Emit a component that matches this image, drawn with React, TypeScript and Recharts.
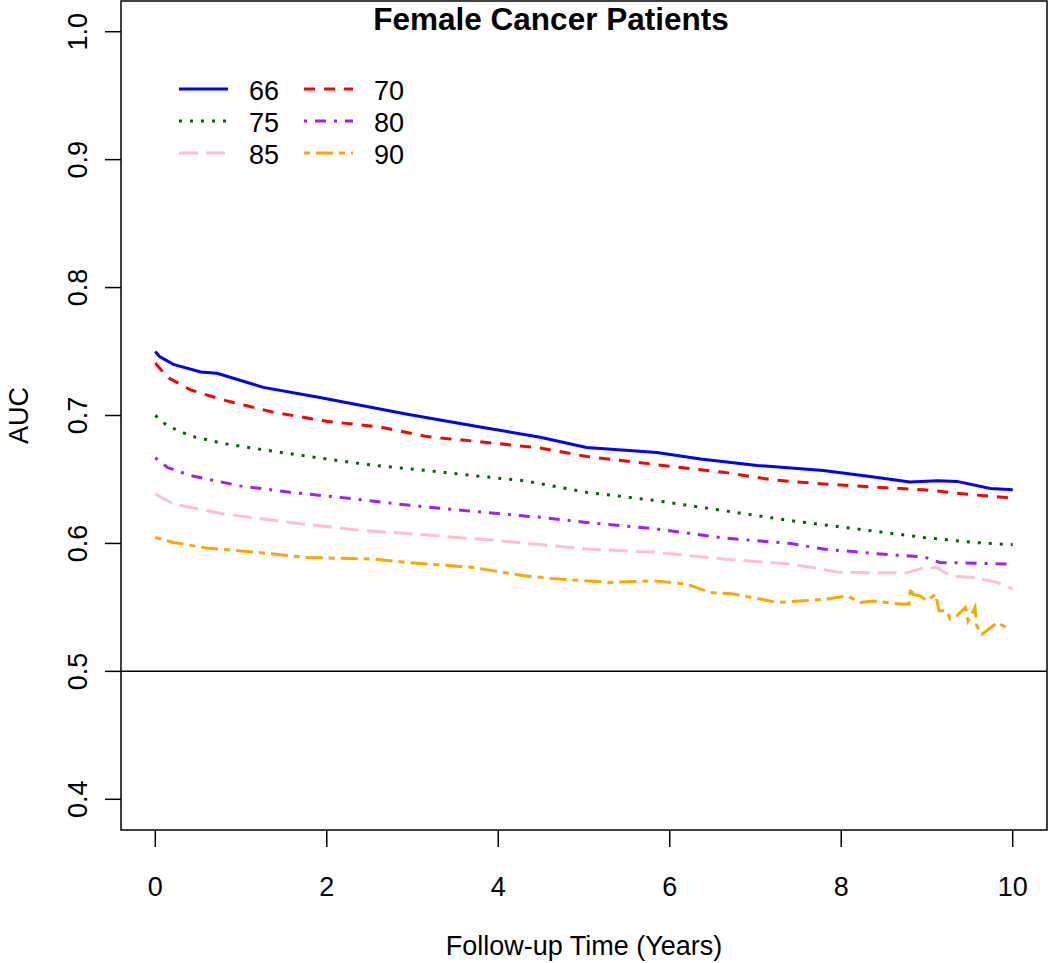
import { LineChart, Line, XAxis, YAxis, ReferenceLine, ReferenceArea } from "recharts"

const FONT = "'Liberation Sans', Arial, Helvetica, sans-serif"

const xTicks = [0, 2, 4, 6, 8, 10]
const yTicks = [0.4, 0.5, 0.6, 0.7, 0.8, 0.9, 1.0]

const t66 = [0, 0.05, 0.21, 0.53, 0.72, 1.26, 1.92, 2.24, 2.94, 3.79, 4.49, 5.03, 5.85, 6.36, 7.02, 7.79, 8.38, 8.8, 9.12, 9.35, 9.74, 10]
const auc66 = [0.75, 0.746, 0.74, 0.734, 0.733, 0.722, 0.714, 0.71, 0.701, 0.691, 0.683, 0.675, 0.671, 0.666, 0.661, 0.657, 0.652, 0.648, 0.649, 0.6485, 0.643, 0.642]

const t70 = [0, 0.14, 0.41, 0.8, 1.38, 2.0, 2.62, 3.17, 3.71, 4.49, 5.03, 5.54, 6.04, 6.63, 7.21, 7.79, 8.38, 8.96, 9.54, 10]
const auc70 = [0.741, 0.73, 0.72, 0.712, 0.7025, 0.6955, 0.691, 0.6835, 0.68, 0.6746, 0.668, 0.664, 0.66, 0.6556, 0.6496, 0.6465, 0.644, 0.642, 0.638, 0.6355]

const t75 = [0, 0.14, 0.41, 0.8, 1.38, 2.0, 2.55, 3.17, 3.71, 4.3, 5.03, 5.85, 6.63, 7.41, 8.18, 8.96, 9.54, 10]
const auc75 = [0.7, 0.692, 0.684, 0.678, 0.672, 0.666, 0.661, 0.657, 0.653, 0.649, 0.64, 0.6334, 0.6256, 0.6178, 0.6113, 0.6047, 0.6008, 0.599]

const t80 = [0, 0.14, 0.41, 0.99, 1.57, 2.16, 2.94, 3.71, 4.49, 5.03, 5.85, 6.63, 7.41, 7.79, 8.57, 8.96, 9.15, 10]
const auc80 = [0.667, 0.6595, 0.653, 0.645, 0.64, 0.636, 0.63, 0.625, 0.6204, 0.6164, 0.6113, 0.6042, 0.6, 0.5956, 0.5911, 0.5896, 0.5851, 0.5839]

const t85 = [0, 0.21, 0.8, 1.57, 2.35, 3.13, 4.1, 5.03, 5.85, 6.63, 7.41, 7.99, 8.77, 8.96, 9.12, 9.27, 9.54, 9.82, 10]
const auc85 = [0.6386, 0.6308, 0.623, 0.6164, 0.6105, 0.6068, 0.6016, 0.5956, 0.593, 0.5878, 0.5839, 0.5773, 0.577, 0.581, 0.581, 0.5747, 0.5734, 0.5695, 0.5643]

const t90 = [0, 0.21, 0.6, 1.19, 1.77, 2.55, 2.94, 3.71, 4.3, 4.72, 5.31, 5.81, 6.2, 6.47, 6.74, 7.06, 7.25, 7.52, 7.83, 8.07, 8.22, 8.38, 8.53, 8.69, 8.79, 8.81, 8.84, 8.92, 9.0, 9.1, 9.14, 9.23, 9.27, 9.35, 9.45, 9.48, 9.56, 9.58, 9.64, 9.72, 9.82, 9.89, 9.97]
const auc90 = [0.6047, 0.6008, 0.5964, 0.593, 0.589, 0.5878, 0.5851, 0.5812, 0.5747, 0.5721, 0.5695, 0.5708, 0.5682, 0.5617, 0.5604, 0.5565, 0.5538, 0.555, 0.5565, 0.559, 0.5538, 0.555, 0.5538, 0.5526, 0.5526, 0.5656, 0.5601, 0.559, 0.5552, 0.5604, 0.5474, 0.5474, 0.541, 0.5436, 0.55, 0.5395, 0.55, 0.5356, 0.529, 0.533, 0.5382, 0.5356, 0.533]

const zip = (t: number[], v: number[]) => t.map((x, i) => ({ t: x, auc: v[i] }))

const series = [
  { name: "66", data: zip(t66, auc66), color: "#0000FF", dash: undefined },
  { name: "70", data: zip(t70, auc70), color: "#FF0000", dash: "11 9" },
  { name: "75", data: zip(t75, auc75), color: "#006400", dash: "3 8" },
  { name: "80", data: zip(t80, auc80), color: "#A020F0", dash: "3 8 11 8" },
  { name: "85", data: zip(t85, auc85), color: "#FFC0CB", dash: "19 8" },
  { name: "90", data: zip(t90, auc90), color: "#FFA500", dash: "6 6 17 6" },
]

const XTick = (props: any) => {
  const { x, y, payload } = props
  return (
    <text x={x} y={y + 47} textAnchor="middle" fontSize={27} fontFamily={FONT} fill="#000">
      {payload.value}
    </text>
  )
}

const YTick = (props: any) => {
  const { y, payload } = props
  return (
    <text x={87} y={y} transform={`rotate(-90, 87, ${y})`} textAnchor="middle" fontSize={27} fontFamily={FONT} fill="#000">
      {payload.value.toFixed(1)}
    </text>
  )
}

// legend drawn like R's legend(ncol = 2), on top of the chart
const LegendBox = () => {
  const colX = [179, 304]
  const rowY = [89, 121, 153]
  return (
    <g>
      {series.map((s, i) => {
        const cx = colX[i % 2]
        const cy = rowY[Math.floor(i / 2)]
        return (
          <g key={s.name}>
            <line x1={cx} x2={cx + 49} y1={cy} y2={cy} stroke={s.color} strokeWidth={3} strokeDasharray={s.dash} />
            <text x={cx + 70} y={cy + 11} fontSize={27} fontFamily={FONT} fill="#000">
              {s.name}
            </text>
          </g>
        )
      })}
    </g>
  )
}

export default function App() {
  return (
    <div style={{ position: "absolute", left: 0, top: 0, width: 1050, height: 963, background: "#fff" }}>
      <LineChart width={1050} height={963} margin={{ top: 1, right: 3, bottom: 0, left: 0 }}>
        <XAxis
          dataKey="t"
          type="number"
          domain={[-0.4, 10.4]}
          ticks={xTicks}
          allowDuplicatedCategory={false}
          axisLine={false}
          tickLine={{ stroke: "#000", strokeWidth: 1.5 }}
          tickSize={17}
          height={133}
          tick={<XTick />}
          label={{
            value: "Follow-up Time (Years)",
            position: "insideBottom",
            offset: 8,
            fontSize: 27,
            fontFamily: FONT,
            fill: "#000",
          }}
        />
        <YAxis
          type="number"
          domain={[0.376, 1.024]}
          ticks={yTicks}
          axisLine={false}
          tickLine={{ stroke: "#000", strokeWidth: 1.5 }}
          tickSize={16}
          width={121}
          tick={<YTick />}
          label={{
            value: "AUC",
            angle: -90,
            position: "insideLeft",
            offset: 18,
            fontSize: 27,
            fontFamily: FONT,
            fill: "#000",
            style: { textAnchor: "middle" },
          }}
        />
        <ReferenceArea x1={-0.4} x2={10.4} y1={0.376} y2={1.024} fill="none" stroke="#000" strokeWidth={1.5} />
        <ReferenceLine y={0.5} stroke="#000" strokeWidth={1.5} />
        {series.map((s) => (
          <Line
            key={s.name}
            data={s.data}
            dataKey="auc"
            name={s.name}
            type="linear"
            stroke={s.color}
            strokeWidth={3}
            strokeDasharray={s.dash}
            dot={false}
            activeDot={false}
            isAnimationActive={false}
          />
        ))}
      </LineChart>
      <svg width={1050} height={963} style={{ position: "absolute", left: 0, top: 0, pointerEvents: "none" }}>
        <text x={551} y={30} textAnchor="middle" fontSize={31.5} fontWeight="bold" fontFamily={FONT} fill="#000">
          Female Cancer Patients
        </text>
        <LegendBox />
      </svg>
    </div>
  )
}
